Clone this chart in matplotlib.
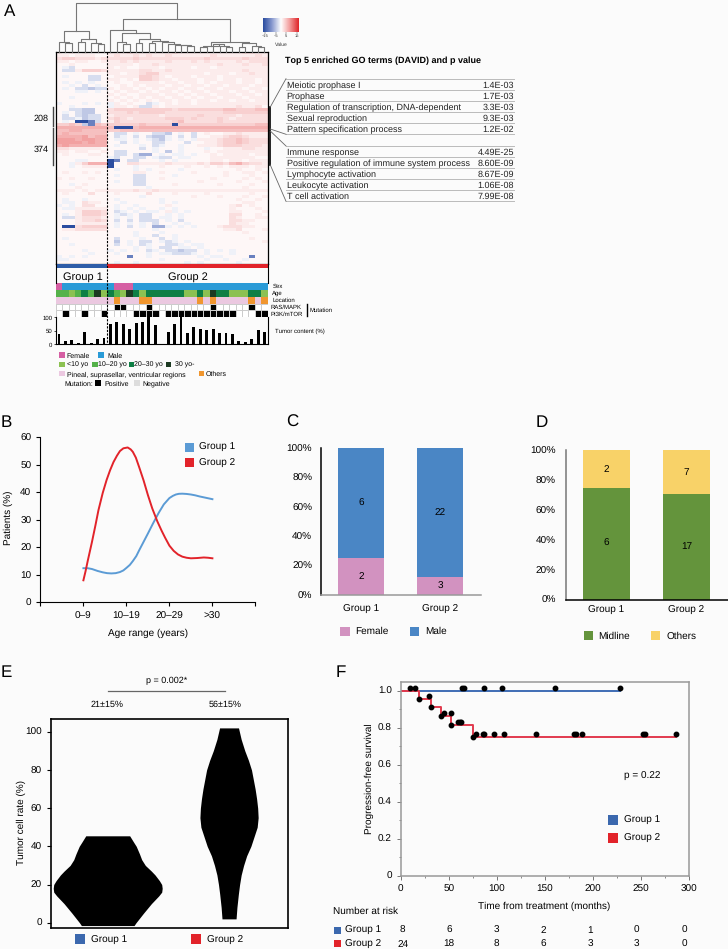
import numpy as np
import matplotlib
matplotlib.use('Agg')
import matplotlib.pyplot as plt
from matplotlib.colors import LinearSegmentedColormap, ListedColormap
from matplotlib.patches import Rectangle
from matplotlib.ticker import MultipleLocator

plt.rcParams['font.family'] = ['Liberation Sans', 'DejaVu Sans']
plt.rcParams['font.size'] = 7
plt.rcParams['text.hinting'] = 'no_hinting'
plt.rcParams['text.hinting_factor'] = 1

W, H = 728, 949
BG = '#FBFBFB'
BLUE = '#3B68AE'
RED = '#E2232A'

# ---- panel A data: 71 rows, 8 + 25 columns, code per cell
heat_rows = [
    "10101000|1112111111211111111112211", "11011100|1211212112111111211111121",
    "23322212|2222322222222223222223222", "11011001|1121211112111212111121222",
    "00100000|1111011211111111121112112", "0ab00000|1010011101111011011111111",
    "0bb13332|1111122112111111111112111", "00000000|1101123311111110111011211",
    "0a000bb0|0111133210111011101111111", "00000bb0|1101033211011101101101101",
    "0a0a0a00|0100111101101101011101101", "00a0b0a0|0010101110110110110111011",
    "0a0bbcbb|1011010101101101101110110", "000aa0a0|0101101011010110111011011",
    "00000000|1010011101101011011101101", "00a00000|0101010110110101101110111",
    "00000000|1010101011011011011011011", "a000a0a0|a10100ba01011011111111111",
    "00a00000|a1101bb10111111111112112", "00bbcc00|2333333333233333334433344",
    "0a0bcc00|2223233332222222223333333", "0b0bcbb0|1222222212222232222212222",
    "0bbacbb0|2321222223332322232122222", "0a0ffeb0|1322222222342222232222222",
    "3343ce43|3333343333f33333333333344", "55555555|4fff45555555555555555555 5",
    "44554444|3344444444444444444444444", "45444444|0bb0a00bbc0a0b0100112111 1",
    "55556455|0ba0b0bcca0b0b00112332111", "66656655|0aa0a0abca0a0a11123343222",
    "66665655|00b0a00bb000b001123343222", "56555555|0a000a0ba00a00111233 32221",
    "22111110|00000b0a000a000a001112211", "11011001|0bb0000a0c0a00010111 11111",
    "01000110|0bb0bdd0a0aa0a00101111011", "00000000|ab00bb0abb0aa000111111100",
    "000aa000|fe0bb000a0a00000110110111", "00a13555|f002211112111121332453221",
    "00a01111|f000a000100010010101 11011", "00000000|0a00a0a0000a0000000010010",
    "01001010|0000110010000100001001101", "00000000|0a00bb0000a00000001000100",
    "10100100|0000bb0010000000100001010", "00000000|0a00bb0000000010000010001",
    "00a01000|0000bb0000100000010000100", "00010000|000000a0000000000000 01000",
    "11101011|1111211211111111111111111", "01000200|0100002000100001000000100",
    "00000000|00000a000000010001000 1001", "0a00a000|0a000000a00000000000 10010",
    "0aa02110|00a00000a0a00000000001100", "a0a02200|0a00a00001000000000120100",
    "0aa11111|0a0a0a00a0a00000000100010", "00013332|0ba0a0aa01a0a00000011 0001",
    "0a013332|0aba0bb00a0a0000000220010", "0bb12221|0a0a0bb0aa0a0000000210011",
    "00012232|0b0b0bbb0a0b0000000221100", "00011111|0a0a0a0b00a0a000000211000",
    "0ff23333|0a0b0a0dda0a0a00012221100", "01122222|0000000a00000000001120001 0",
    "00000000|0000a000a0000000000001000", "00000000|0000a00b00a0000000000000 0",
    "0a000000|0b000a00b0a00000000000100", "00000000|0c0a0bb0aba0a00000000000 10",
    "00a00000|0b0a0ba00bba0aa0000000000", "00000000|0000a0a0bb0aa0a000000000 0",
    "0000a000|a0a0a0ba0bbcbb0a0a0a00000", "00000a00|0a0000a0aabbba0a000a00000",
    "a0a0a000|000e00a0000000a0aa0000e00", "aa000000|00000000a000000a00a00a000",
    "00000000|0a00a000000 0a0a00000a0000",
]
heat_codes = {'0': 0.5, '1': 1.3, '2': 2.4, '3': 3.5, '4': 4.6, '5': 5.8, '6': 7,
              'a': -1, 'b': -2.5, 'c': -4, 'd': -6, 'e': -10, 'f': -15}
# colour classes per patient
sex = [0,1,1,1,1,1,1,1, 1,0,0,0,1,1,1,1,1,1,1,1,1,1,1,1,1,1,1,1,1,1,1,1,1]
age = [1,1,0,1,2,1,3,0, 2,1,0,3,2,0,2,2,2,2,2,2,0,0,2,0,3,2,2,0,0,0,2,2,0]
location = [0,0,0,0,0,0,0,0, 0,1,0,0,0,1,1,0,0,0,0,0,0,0,1,0,1,0,0,0,0,0,1,0,1]
ras_mapk = [0,0,0,0,0,0,0,0, 0,1,1,0,0,0,1,0,0,0,0,0,0,0,0,0,1,0,0,0,0,0,1,0,0]
pi3k_mtor = [0,1,0,0,1,0,0,1, 0,0,0,0,1,1,1,1,0,1,1,1,1,1,1,1,1,1,1,1,0,0,0,1,1]
tumor = [38,13,17,4,44,3,20,23, 77,84,74,56,79,82,100,70,1,45,74,100,43,65,57,52,56,42,42,38,13,10,21,53,45]

# dendrogram merges: (height in px, left, right), ints are columns
tree_g1 = (21, (9.7, 0, (9, 1, 2)), (13.3, (10.3, 3, 4), (9.3, 5, (7.7, 6, 7))))
chain = (10, 16, (8.5, 17, (7.5, 18, (6.8, 19, (6, 20, 21)))))
tree_g2_left = (22, 8, (18.7, (9.7, 9, (8, 10, 11)),
                        (12.7, (8.7, 12, 13), (11.3, (9, 14, 15), chain))))
tree_g2_right = (10.5, (6.5, (5, 22, 23), (8, 24, (6.5, 25, (5.5, 26, 27)))),
                 (8.7, (5.5, 28, 29), (6.5, 30, (5, 31, 32))))
tree = (49.3, tree_g1, (32.7, tree_g2_left, tree_g2_right))

go_terms_top = ['Meiotic prophase I', 'Prophase', 'Regulation of transcription, DNA-dependent',
                'Sexual reproduction', 'Pattern specification process']
go_p_top = ['1.4E-03', '1.7E-03', '3.3E-03', '9.3E-03', '1.2E-02']
go_terms_low = ['Immune response', 'Positive regulation of immune system process',
                'Lymphocyte activation', 'Leukocyte activation', 'T cell activation']
go_p_low = ['4.49E-25', '8.60E-09', '8.67E-09', '1.06E-08', '7.99E-08']

# ---- panel B, curves
age_labels = ['0–9', '10–19', '20–29', '>30']
b_x1 = [1, 1.1, 1.2, 1.33, 1.45, 1.55, 1.65, 1.75, 1.85, 1.93, 2, 2.08, 2.15, 2.23, 2.3, 2.4, 2.5, 2.62,
        2.75, 2.87, 3, 3.08, 3.15, 3.22, 3.3, 3.4, 3.5, 3.6, 3.7, 3.85, 4]
b_g1 = [12.4, 12.4, 12.1, 11.4, 10.9, 10.6, 10.5, 10.6, 11, 11.6, 12.5, 13.6, 15, 16.8, 19, 22, 25, 28.7,
        32.5, 35.6, 37.9, 38.7, 39.2, 39.45, 39.5, 39.4, 39.2, 38.9, 38.5, 38, 37.5]
b_x2 = [1, 1.05, 1.1, 1.15, 1.2, 1.28, 1.35, 1.45, 1.54, 1.62, 1.7, 1.78, 1.85, 1.93, 2.03, 2.1, 2.15, 2.22,
        2.3, 2.4, 2.5, 2.6, 2.72, 2.82, 2.9, 3, 3.1, 3.2, 3.3, 3.4, 3.5, 3.65, 3.8, 3.9, 4]
b_g2 = [8, 11.3, 15, 18.5, 22, 28, 33.5, 39.8, 44.5, 48, 51, 53.3, 55, 56, 56.3, 55.6, 54.7, 52.6,
        49, 44.3, 39, 34.2, 29.4, 26, 23.5, 20.6, 18.7, 17.4, 16.6, 16.2, 16, 16.1, 16.3, 16.2, 16]

# ---- panels C, D (counts)
groups = ['Group 1', 'Group 2']
female = [2, 3]
male = [6, 22]
midline = [6, 17]
others = [2, 7]

# ---- panel E, violin outlines (rate, half width)
e_g1_rate = [-1.5, 0, 5, 10, 12, 14, 16, 18, 20, 22, 25, 27, 30, 33, 36, 40, 42, 45.5]
e_g1_half = [0.217, 0.233, 0.295, 0.36, 0.39, 0.42, 0.445, 0.449, 0.445, 0.426, 0.39, 0.36, 0.31, 0.28,
             0.262, 0.235, 0.215, 0.181]
e_g2_rate = [2, 8, 15, 20, 25, 30, 35, 40, 45, 50, 55, 60, 65, 70, 75, 80, 85, 90, 96, 102]
e_g2_half = [0.058, 0.065, 0.077, 0.087, 0.1, 0.12, 0.145, 0.18, 0.206, 0.232, 0.24, 0.236, 0.227, 0.215,
             0.2, 0.185, 0.16, 0.13, 0.1, 0.078]

# ---- panel F
km_t1 = [0, 228]
km_s1 = [1.0, 1.0]
km_t2 = [0, 19, 32, 42, 52, 75, 287]
km_s2 = [1.0, 0.955, 0.91, 0.865, 0.815, 0.752, 0.752]
cens_t1 = [10, 15, 64, 66, 87, 106, 161, 228]
cens_s1 = [1.015] * 8
cens_t2 = [19, 30, 32, 42, 45, 52, 52, 60, 62, 63, 75, 78, 86, 87, 97, 108, 141, 181, 183, 189, 252, 254, 287]
cens_s2 = [.955, .97, .91, .865, .88, .88, .815, .83, .83, .83, .752, .767, .767, .767, .767, .767, .767,
           .767, .767, .767, .767, .767, .767]
risk_g1 = [8, 6, 3, 2, 1, 0, 0]
risk_g2 = [24, 18, 8, 6, 3, 3, 0]

fig = plt.figure(figsize=(W / 100, H / 100), dpi=100, facecolor=BG)


def axpx(x0, y0, x1, y1, **kw):
    # axes from pixel box, y measured from the top
    return fig.add_axes([x0 / W, 1 - y1 / H, (x1 - x0) / W, (y1 - y0) / H], facecolor=kw.pop('fc', 'none'), **kw)


ov = axpx(0, 0, W, H, zorder=10)
ov.set_xlim(0, W)
ov.set_ylim(H, 0)
ov.axis('off')


def txt(x, y, s, size=7, ha='left', **kw):
    # horizontal text sits on a common baseline, rotated labels centre on y
    if 'rotation' in kw:
        ov.text(x, y, s, fontsize=size, ha=ha, va='center', **kw)
    else:
        ov.text(x, y + size * 0.48, s, fontsize=size, ha=ha, va='baseline', **kw)


def square(x0, y0, x1, y1, color):
    ov.add_patch(Rectangle((x0, y0), x1 - x0, y1 - y0, color=color, lw=0))


for s, x, y in [('A', 4, 10), ('B', 1, 421), ('C', 286, 421), ('D', 536, 421), ('E', 1, 671), ('F', 336, 671)]:
    txt(x, y, s, size=12.5)

# ---- A: heatmap
HX0, HX1 = 55.8, 267.7
cmap = LinearSegmentedColormap.from_list('rb', ['#2B4DA0', '#8A9BD0', '#FFFFFF', '#F29A9A', '#E0262B'])
mat = np.array([[heat_codes[c] for c in r.replace('|', '').replace(' ', '').ljust(33, '0')[:33]] for r in heat_rows])
ax = axpx(HX0, 52, HX1, 264.3)
ax.imshow(mat, cmap=cmap, vmin=-15, vmax=15, aspect='auto', interpolation='nearest')
ax.set_xticks([])
ax.set_yticks([])
for sp in ax.spines.values():
    sp.set_linewidth(0.9)

col_w = (HX1 - HX0) / 33


def draw_tree(node):
    if isinstance(node, int):
        return HX0 + (node + 0.5) * col_w, 0
    h, left, right = node
    xl, hl = draw_tree(left)
    xr, hr = draw_tree(right)
    ov.plot([xl, xl, xr, xr], [52 - hl, 52 - h, 52 - h, 52 - hr], color='#777777', lw=0.8)
    return (xl + xr) / 2, h


draw_tree(tree)

# group bars and labels
square(HX0, 264.3, 107.2, 268.3, '#2F5DA8')
square(107.2, 264.3, HX1, 268.3, RED)
txt(82.7, 275.7, 'Group 1', size=7.7, ha='center')
txt(187.7, 275.7, 'Group 2', size=7.7, ha='center')
ov.plot([HX0, HX0], [264, 283], color='k', lw=0.8)
ov.plot([HX1, HX1], [264, 283], color='k', lw=0.8)
ov.plot([107.2, 107.2], [52, 344], color='k', lw=0.8, dashes=(2, 1.2))


def track(values, colors, y0, y1, edge=None):
    a = axpx(HX0, y0, HX1, y1)
    m = np.array(values)[None, :]
    a.pcolormesh(m, cmap=ListedColormap(colors), vmin=0, vmax=len(colors) - 1,
                 edgecolors=edge if edge else 'face', linewidth=0.4 if edge else 0)
    a.axis('off')


track(sex, ['#D55FA3', '#2A9BD7'], 283.3, 290)
track(age, ['#8CC152', '#55B24A', '#0E7F45', '#1C3A22'], 290, 297)
track(location, ['#EBC8E0', '#F0962F'], 297, 303.8)
track(ras_mapk, ['#FFFFFF', '#000000'], 303.8, 310.4, edge='#CCCCCC')
track(pi3k_mtor, ['#FFFFFF', '#000000'], 310.4, 317, edge='#CCCCCC')

ax = axpx(HX0, 317.3, HX1, 344.3)
ax.bar(range(33), tumor, width=0.45, color='k')
ax.set_xlim(-0.5, 32.5)
ax.set_ylim(0, 100)
ax.set_xticks([])
ax.set_yticks([0, 50, 100])
ax.tick_params(labelsize=4.6, length=1.5, width=0.5, pad=1)
ax.spines['top'].set_visible(False)
for sp in ax.spines.values():
    sp.set_linewidth(0.8)

for s, y in [('Sex', 286.3), ('Age', 293), ('Location', 299.7)]:
    txt(272.3, y, s, size=4.4)
txt(270.7, 306.7, 'RAS/MAPK', size=4.4)
txt(270.7, 313.7, 'PI3K/mTOR', size=4.4)
ov.plot([306.7, 306.7], [304, 316], color='k', lw=1)
txt(309.5, 310.3, 'Mutation', size=4.4)
txt(275, 330.3, 'Tumor content (%)', size=4.4)

# side brackets
ov.plot([52.7, 52.7], [107.3, 126], color='#444444', lw=1)
ov.plot([52.7, 52.7], [128.3, 165], color='#444444', lw=1)
txt(49, 117.7, '208', size=6.6, ha='right')
txt(49, 148.3, '374', size=6.6, ha='right')

# colour bar
cb = axpx(263.3, 18.3, 299, 31.7)
cb.imshow(np.linspace(-15, 15, 64)[None, :], cmap=cmap, aspect='auto', extent=(-17, 17, 0, 1))
cb.set_yticks([])
cb.set_xticks([-15, -5, 5, 15])
cb.set_xticklabels(['−15', '−5', '5', '15'], fontsize=3.2)
cb.tick_params(length=1.2, width=0.3, pad=0.8, colors='#333333')
for sp in cb.spines.values():
    sp.set_visible(False)
txt(281.5, 44, 'Value', size=3.4, ha='center', color='#333333')

# GO table
txt(285, 59.7, 'Top 5 enriched GO terms (DAVID) and p value', size=6.3, weight='bold')
y_rows = [84.7, 96, 107, 118, 129]
for ys, terms, ps in [(y_rows, go_terms_top, go_p_top),
                      ([152, 163, 174, 185, 196], go_terms_low, go_p_low)]:
    for y, t, p in zip(ys, terms, ps):
        txt(286.7, y, t, size=6.2, color='#222222')
        txt(514, y, p, size=6.4, ha='right', color='#222222')
        ov.plot([286, 514.3], [y + 5.4, y + 5.4], color='#BBBBBB', lw=0.7)
    ov.plot([286, 514.3], [ys[0] - 5.8, ys[0] - 5.8], color='#BBBBBB', lw=0.7)
ov.plot([270.3, 270.3], [107, 130], color='k', lw=1.2)
ov.plot([270.3, 270.3], [130.5, 165], color='k', lw=1.2)
for y0, y1 in [(107, 78.7), (129, 134.3), (131, 146), (165, 201.3)]:
    ov.plot([270.3, 286], [y0, y1], color='#666666', lw=0.6)

# A legend
LS = 5.15
square(59.3, 352.3, 65, 358, '#D55FA3')
txt(66.7, 355, 'Female', size=LS)
square(98.3, 352.3, 104, 358, '#2A9BD7')
txt(107, 355, 'Male', size=LS)
for sx, tx, c, s in [(59.3, 66.7, '#8CC152', '<10 yo'), (92.3, 98.3, '#55B24A', '10–20 yo'),
                     (128.7, 134.3, '#0E7F45', '20–30 yo'), (166, 175, '#1C3A22', '30 yo-')]:
    square(sx, 361.6, sx + 5.3, 367, c)
    txt(tx, 364.3, s, size=LS)
square(59.3, 371, 65, 376.4, '#EBC8E0')
txt(66.7, 373.7, 'Pineal, suprasellar, ventricular regions', size=LS)
square(198.7, 371, 204, 376.4, '#F0962F')
txt(206, 373.2, 'Others', size=LS)
txt(64, 383, 'Mutation:', size=LS)
square(95.3, 380.3, 100.7, 385.7, 'k')
txt(104.7, 383, 'Positive', size=LS)
square(134.3, 380.3, 139.7, 385.7, '#DDDDDD')
txt(142.3, 383, 'Negative', size=LS)

# ---- B
ax = axpx(40.4, 437.3, 255.4, 602.3)
ax.plot(b_x1, b_g1, color='#5B9BD5', lw=1.4)
ax.plot(b_x2, b_g2, color=RED, lw=1.4)
ax.set_xlim(0, 5)
ax.set_ylim(0, 60)
ax.set_xticks(range(6))
ax.set_xticklabels([''] + age_labels + [''])
ax.set_yticks(range(0, 61, 10))
ax.tick_params(length=3, width=0.8, labelsize=7)
ax.spines[['top', 'right']].set_visible(False)
txt(8.4, 518, 'Patients (%)', rotation=90, ha='center')
txt(148.5, 633, 'Age range (years)', ha='center')
square(184.8, 442.5, 193.6, 451.5, '#5B9BD5')
txt(198.7, 447, 'Group 1')
square(184.8, 458, 193.6, 467, RED)
txt(198.7, 462.3, 'Group 2')


def stacked(box, low, high, colors, xlim, xcol, ycol, xpad, ypad):
    a = axpx(*box)
    low = np.array(low)
    high = np.array(high)
    tot = low + high
    pl = low / tot * 100
    ph = high / tot * 100
    a.bar([1, 2], pl, width=0.59, color=colors[0])
    a.bar([1, 2], ph, bottom=pl, width=0.59, color=colors[1])
    for i in range(2):
        a.text(i + 1, pl[i] / 2, str(low[i]), ha='center', va='center', fontsize=7)
        a.text(i + 1, pl[i] + ph[i] / 2, str(high[i]), ha='center', va='center', fontsize=7)
    a.set_xlim(*xlim)
    a.set_ylim(0, 100)
    a.set_xticks([1, 2])
    a.set_xticklabels(groups)
    a.set_yticks(range(0, 101, 20))
    a.set_yticklabels([f'{v}%' for v in range(0, 101, 20)])
    a.tick_params(axis='x', length=0, labelsize=7, pad=xpad)
    a.tick_params(axis='y', length=0, labelsize=7, pad=ypad)
    a.spines[['top', 'right']].set_visible(False)
    a.spines['bottom'].set_color(xcol)
    a.spines['left'].set_color(ycol)
    a.spines['bottom'].set_linewidth(1.1)
    a.spines['left'].set_linewidth(1.1)


# ---- C
stacked((321.3, 448.3, 481, 595), female, male, ['#D292C0', '#4A86C5'], (0.493, 2.52), '#999999', 'k', 7, 6.5)
square(340.3, 626.5, 349.6, 635.5, '#D292C0')
txt(355.6, 631, 'Female')
square(410, 626.5, 419, 635.5, '#4A86C5')
txt(424.8, 631, 'Male')

# ---- D
stacked((566, 450.3, 728, 599.7), midline, others, ['#64943C', '#F8D268'], (0.495, 2.52), 'k', '#777777', 4.5, 7.5)
square(583.6, 631, 593, 640, '#64943C')
txt(598, 635.7, 'Midline')
square(650.5, 631, 660, 640, '#F8D268')
txt(667, 635.7, 'Others')

# ---- E
ax = axpx(50.7, 719.3, 288, 928.3)
g1r, g1h = np.array(e_g1_rate), np.array(e_g1_half)
g2r, g2h = np.array(e_g2_rate), np.array(e_g2_half)
ax.fill_betweenx(g1r, 1 - g1h, 1 + g1h, color='k', lw=0)
ax.fill_betweenx(g2r, 2 - g2h, 2 + g2h, color='k', lw=0)
ax.set_xlim(0.53, 2.486)
ax.set_ylim(-2.93, 106.5)
ax.set_xticks([])
ax.set_yticks(range(0, 101, 20))
ax.tick_params(length=3, width=0.8, labelsize=7)
for sp in ax.spines.values():
    sp.set_linewidth(1.2)
txt(21.7, 822.7, 'Tumor cell rate (%)', rotation=90, ha='center')
txt(167, 679.5, 'p = 0.002*', ha='center', size=6.8)
ov.plot([108, 225], [690.7, 690.7], color='#666666', lw=0.9)
txt(107, 703.5, '21±15%', ha='center', size=6.8)
txt(225, 703.5, '56±15%', ha='center', size=6.8)
square(75, 934.3, 85, 944.3, BLUE)
txt(91, 939.3, 'Group 1')
square(190.7, 934.3, 200.7, 944.3, RED)
txt(206.7, 939.3, 'Group 2')

# ---- F
ax = axpx(400.7, 681.7, 688.7, 875.7)
ax.step(km_t1, km_s1, where='post', color='#3F6DB5', lw=1.4)
ax.step(km_t2, km_s2, where='post', color='#E23A4E', lw=1.4)
ax.plot(cens_t1, cens_s1, 'o', color='k', ms=3.2, clip_on=False)
ax.plot(cens_t2, cens_s2, 'o', color='k', ms=3.2)
ax.set_xlim(0, 300)
ax.set_ylim(0, 1.049)
ax.set_xticks(range(0, 301, 50))
ax.set_yticks([0, 0.2, 0.4, 0.6, 0.8, 1.0])
ax.set_yticklabels(['0', '0.2', '0.4', '0.6', '0.8', '1.0'])
ax.xaxis.set_minor_locator(MultipleLocator(25))
ax.yaxis.set_minor_locator(MultipleLocator(0.1))
ax.tick_params(which='major', length=3, width=0.7, color='#777777', labelsize=7)
ax.tick_params(which='minor', length=1.5, width=0.6, color='#777777')
for sp in ax.spines.values():
    sp.set_color('#999999')
    sp.set_linewidth(1.1)
txt(369, 779, 'Progression-free survival', rotation=90, ha='center')
txt(544.3, 905.7, 'Time from treatment (months)', ha='center')
txt(642.7, 776, 'p = 0.22', ha='center')
square(608, 815, 618.3, 825, BLUE)
txt(623.7, 820, 'Group 1')
square(608, 832.7, 618.3, 842.7, RED)
txt(623.7, 837.7, 'Group 2')

txt(333, 910.7, 'Number at risk')
square(334, 926.5, 341, 933.5, BLUE)
txt(345, 930, 'Group 1')
square(334, 940, 341, 947, RED)
txt(345, 943.3, 'Group 2')
risk_x = [402.7, 449, 496, 543.3, 590, 636.7, 684.3]
for x, a, b in zip(risk_x, risk_g1, risk_g2):
    txt(x, 930, str(a), ha='center')
    txt(x, 943.3, str(b), ha='center')

fig.savefig('out.png', dpi=100, facecolor=BG)
